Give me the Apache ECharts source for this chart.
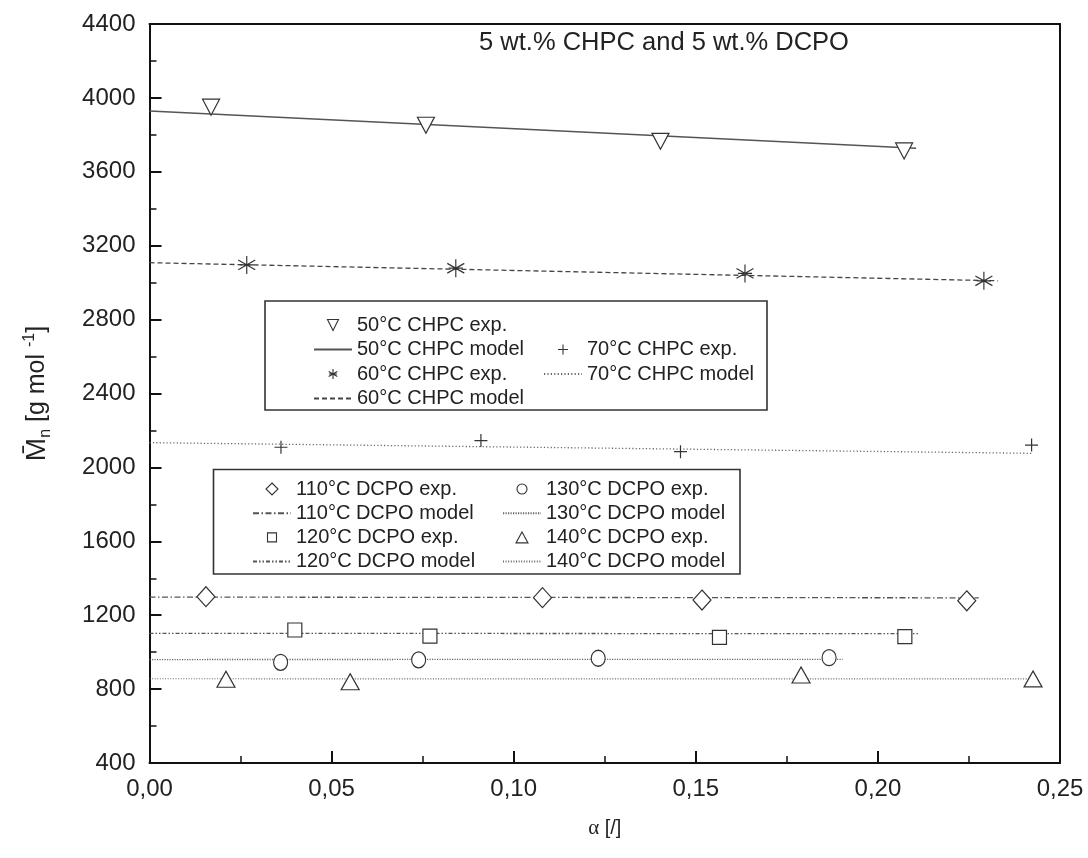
<!DOCTYPE html>
<html>
<head>
<meta charset="utf-8">
<script src="https://cdn.jsdelivr.net/npm/echarts@6/dist/echarts.min.js"></script>
<style>
  html, body { margin: 0; padding: 0; background: #fff; }
  #chart { width: 1088px; height: 858px; }
</style>
</head>
<body>
<div id="chart"></div>
<script>
// Number-average molar mass vs. conversion for CHPC and DCPO initiated runs
var xTickLabels = ['0,00', '0,05', '0,10', '0,15', '0,20', '0,25'];
var yTickLabels = ['400', '800', '1200', '1600', '2000', '2400', '2800', '3200', '3600', '4000', '4400'];

// experimental points: conversion alpha and Mn
var exp50Alpha = [0.0169, 0.0759, 0.1403, 0.2072];
var exp50Mn = [3950, 3852, 3765, 3713];
var exp60Alpha = [0.0267, 0.0841, 0.1635, 0.2291];
var exp60Mn = [3096, 3078, 3050, 3010];
var exp70Alpha = [0.0361, 0.0910, 0.1458, 0.2422];
var exp70Mn = [2109, 2145, 2085, 2121];
var exp110Alpha = [0.0155, 0.1079, 0.1517, 0.2244];
var exp110Mn = [1300, 1295, 1282, 1278];
var exp120Alpha = [0.0399, 0.0770, 0.1565, 0.2074];
var exp120Mn = [1120, 1087, 1080, 1084];
var exp130Alpha = [0.0360, 0.0739, 0.1232, 0.1866];
var exp130Mn = [945, 958, 967, 970];
var exp140Alpha = [0.0210, 0.0551, 0.1789, 0.2426];
var exp140Mn = [853, 840, 876, 855];

// model curves (start and end of each straight model line)
var model50Alpha = [0, 0.2105];
var model50Mn = [3929, 3727];
var model60Alpha = [0, 0.2330];
var model60Mn = [3108, 3010];
var model70Alpha = [0, 0.2426];
var model70Mn = [2134, 2076];
var model110Alpha = [0, 0.2277];
var model110Mn = [1298, 1294];
var model120Alpha = [0, 0.2110];
var model120Mn = [1102, 1100];
var model130Alpha = [0, 0.1903];
var model130Mn = [960, 961];
var model140Alpha = [0, 0.2440];
var model140Mn = [856, 855];

function pairs(xs, ys) {
  return xs.map(function (x, i) { return [x, ys[i]]; });
}

var FONT = '"Liberation Sans", Arial, sans-serif';
var INK = '#222';
var MARK = '#333';

// plot markers
var plusPath = 'path://M5,0 L5,10 M0,5 L10,5';
var starPath = 'path://M5,0 L5,10 M0.8,2.3 L9.2,7.7 M0.8,7.7 L9.2,2.3 M1.5,5 L8.5,5';

// legend icons drawn inside a 38x12 box (the leading moves pin the box so the
// glyph keeps its proportions when the legend scales it to the item size)
var BOX = 'M0,0 M38,12 ';
var legendIcons = {
  triDown: 'path://' + BOX + 'M13.5,0.5 L24.5,0.5 L19,11.5 Z',
  star: 'path://' + BOX + 'M19,1 L19,11 M14.7,3.5 L23.3,8.5 M14.7,8.5 L23.3,3.5 M15,6 L23,6',
  plus: 'path://' + BOX + 'M19,1 L19,11 M14,6 L24,6',
  diamond: 'path://' + BOX + 'M19,0 L25,6 L19,12 L13,6 Z',
  rect: 'path://' + BOX + 'M14.5,1.5 L23.5,1.5 L23.5,10.5 L14.5,10.5 Z',
  circle: 'path://' + BOX + 'M24,6 A5,5 0 1 1 14,6 A5,5 0 1 1 24,6 Z',
  triUp: 'path://' + BOX + 'M19,0.5 L25,11.5 L13,11.5 Z'
};

// legend entries, keyed by series name
var legendItems = {};

function expSeries(name, xs, ys, symbol, size, rotate, icon) {
  legendItems[name] = {
    name: name,
    icon: legendIcons[icon],
    itemStyle: { color: '#fff', borderColor: MARK, borderWidth: 1.1 }
  };
  return {
    name: name,
    type: 'scatter',
    data: pairs(xs, ys),
    symbol: symbol,
    symbolSize: size,
    symbolRotate: rotate || 0,
    z: 5,
    silent: true,
    itemStyle: { color: '#fff', borderColor: MARK, borderWidth: 1.2, opacity: 1 }
  };
}

function modelSeries(name, xs, ys, dash, color, width) {
  legendItems[name] = {
    name: name,
    itemStyle: { opacity: 0 }
  };
  return {
    name: name,
    type: 'line',
    data: pairs(xs, ys),
    symbol: 'none',
    showSymbol: false,
    silent: true,
    z: 2,
    color: color,
    itemStyle: { color: color, opacity: 0 },
    lineStyle: { color: color, width: width || 1.4, type: dash }
  };
}

var series = [
  expSeries('50°C CHPC exp.', exp50Alpha, exp50Mn, 'triangle', [17, 16], 180, 'triDown'),
  modelSeries('50°C CHPC model', model50Alpha, model50Mn, 'solid', '#555', 1.5),
  expSeries('60°C CHPC exp.', exp60Alpha, exp60Mn, starPath, [17, 18], 0, 'star'),
  modelSeries('60°C CHPC model', model60Alpha, model60Mn, [5, 3], '#444', 1.3),
  expSeries('70°C CHPC exp.', exp70Alpha, exp70Mn, plusPath, [13, 13], 0, 'plus'),
  modelSeries('70°C CHPC model', model70Alpha, model70Mn, [1.2, 2.2], '#666', 1.3),
  expSeries('110°C DCPO exp.', exp110Alpha, exp110Mn, 'diamond', [18, 20], 0, 'diamond'),
  modelSeries('110°C DCPO model', model110Alpha, model110Mn, [6, 2.5, 1.5, 2.5], '#555', 1.3),
  expSeries('120°C DCPO exp.', exp120Alpha, exp120Mn, 'rect', [14, 14], 0, 'rect'),
  modelSeries('120°C DCPO model', model120Alpha, model120Mn, [4, 2, 1.5, 2, 1.5, 2], '#555', 1.3),
  expSeries('130°C DCPO exp.', exp130Alpha, exp130Mn, 'circle', [14, 16], 0, 'circle'),
  modelSeries('130°C DCPO model', model130Alpha, model130Mn, [1.2, 1.3], '#666', 1.3),
  expSeries('140°C DCPO exp.', exp140Alpha, exp140Mn, 'triangle', [18, 16], 0, 'triUp'),
  modelSeries('140°C DCPO model', model140Alpha, model140Mn, [1, 1.6], '#666', 1.2)
];

function legendBlock(names, left, top, gap) {
  return {
    data: names.map(function (n) { return legendItems[n]; }),
    orient: 'vertical',
    left: left,
    top: top,
    padding: 0,
    itemWidth: 38,
    itemHeight: 12,
    itemGap: gap,
    selectedMode: false,
    textStyle: { fontFamily: FONT, fontSize: 20, lineHeight: 20, color: INK }
  };
}

var hidden = { show: false };

var option = {
  animation: false,
  backgroundColor: '#fff',
  grid: { left: 149.5, right: 28, top: 24, bottom: 95, containLabel: false },
  xAxis: [{
    type: 'value',
    min: 0,
    max: 0.25,
    interval: 0.05,
    name: '{g|α} [/]',
    nameLocation: 'middle',
    nameGap: 55,
    nameTextStyle: {
      fontFamily: FONT, fontSize: 20, color: INK,
      rich: { g: { fontFamily: '"Liberation Serif", serif', fontSize: 21, color: INK } }
    },
    axisLine: { show: true, onZero: false, lineStyle: { color: '#111', width: 2 } },
    axisTick: { show: true, inside: true, length: 12, lineStyle: { color: '#111', width: 2 } },
    minorTick: { show: true, splitNumber: 2, length: 7, lineStyle: { color: '#111', width: 1.5 } },
    splitLine: hidden,
    axisLabel: {
      margin: 14, fontFamily: FONT, fontSize: 24, color: INK,
      formatter: function (v) { return xTickLabels[Math.round(v / 0.05)]; }
    }
  }, {
    type: 'value', position: 'top', min: 0, max: 0.25, interval: 0.05,
    axisLine: { show: true, onZero: false, lineStyle: { color: '#111', width: 2 } },
    axisTick: hidden, axisLabel: hidden, splitLine: hidden
  }],
  yAxis: [{
    type: 'value',
    min: 400,
    max: 4400,
    interval: 400,
    name: '{m|M̄}{s|n}{a| [g mol }{p|-1}{a|]}',
    nameLocation: 'middle',
    nameRotate: 90,
    nameGap: 96,
    nameTextStyle: {
      fontFamily: FONT, fontSize: 25, color: INK,
      rich: {
        m: { fontFamily: FONT, fontSize: 28, lineHeight: 32, color: INK },
        a: { fontFamily: FONT, fontSize: 25, lineHeight: 32, color: INK },
        s: { fontFamily: FONT, fontSize: 16, lineHeight: 18, verticalAlign: 'bottom', color: INK },
        p: { fontFamily: FONT, fontSize: 16, lineHeight: 18, verticalAlign: 'top', color: INK }
      }
    },
    axisLine: { show: true, onZero: false, lineStyle: { color: '#111', width: 2 } },
    axisTick: { show: true, inside: true, length: 12, lineStyle: { color: '#111', width: 2 } },
    minorTick: { show: true, splitNumber: 2, length: 7, lineStyle: { color: '#111', width: 1.5 } },
    splitLine: hidden,
    axisLabel: {
      margin: 14, fontFamily: FONT, fontSize: 24, color: INK,
      formatter: function (v) { return yTickLabels[Math.round((v - 400) / 400)]; }
    }
  }, {
    type: 'value', position: 'right', min: 400, max: 4400, interval: 400,
    axisLine: { show: true, onZero: false, lineStyle: { color: '#111', width: 2 } },
    axisTick: hidden, axisLabel: hidden, splitLine: hidden
  }],
  legend: [
    legendBlock(['50°C CHPC exp.', '50°C CHPC model', '60°C CHPC exp.', '60°C CHPC model'], 313, 315, 4.5),
    legendBlock(['70°C CHPC exp.', '70°C CHPC model'], 543, 339.5, 4.5),
    legendBlock(['110°C DCPO exp.', '110°C DCPO model', '120°C DCPO exp.', '120°C DCPO model'], 252, 479, 4.2),
    legendBlock(['130°C DCPO exp.', '130°C DCPO model', '140°C DCPO exp.', '140°C DCPO model'], 502, 479, 4.2)
  ],
  graphic: [
    {
      type: 'rect', silent: true, z: 10,
      shape: { x: 265, y: 301, width: 502, height: 109 },
      style: { fill: 'none', stroke: '#333', lineWidth: 1.6 }
    },
    {
      type: 'rect', silent: true, z: 10,
      shape: { x: 213.5, y: 469.5, width: 526.5, height: 104.5 },
      style: { fill: 'none', stroke: '#333', lineWidth: 1.6 }
    },
    {
      type: 'text', silent: true, z: 10,
      x: 664, y: 43,
      style: {
        text: '5 wt.% CHPC and 5 wt.% DCPO',
        fontFamily: FONT, fontSize: 25.5, fill: INK,
        align: 'center', verticalAlign: 'middle'
      }
    }
  ],
  series: series
};

var chart = echarts.init(document.getElementById('chart'), null, { renderer: 'canvas' });
chart.setOption(option);
</script>
</body>
</html>
